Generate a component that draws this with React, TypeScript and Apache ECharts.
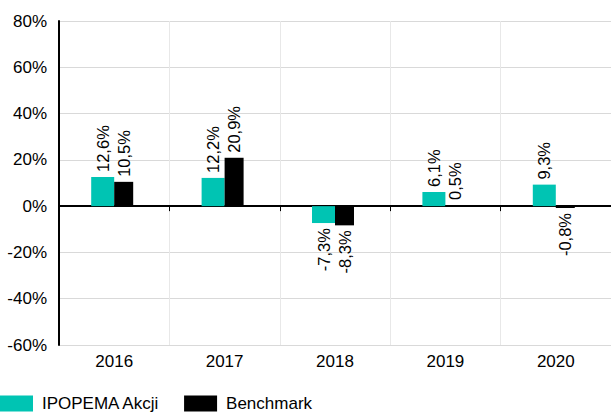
import React, { useEffect, useRef } from "react";
import * as echarts from "echarts";

const categories = ["2016", "2017", "2018", "2019", "2020"];
const fundValues = [12.6, 12.2, -7.3, 6.1, 9.3];
const benchValues = [10.5, 20.9, -8.3, 0.5, -0.8];
const seriesNames = ["IPOPEMA Akcji", "Benchmark"];

const fmt = (v: number) => v.toFixed(1).replace(".", ",") + "%";

const toData = (arr: number[]) =>
  arr.map((v) =>
    v >= 0
      ? { value: v, label: { position: "top", align: "left", formatter: fmt(v) } }
      : { value: v, label: { position: "bottom", align: "right", formatter: fmt(v) } }
  );

export default function App() {
  const ref = useRef<HTMLDivElement>(null);
  useEffect(() => {
    const chart = echarts.init(ref.current!, null, { renderer: "svg" });
    const font = "'Liberation Sans', Arial, sans-serif";
    const labelBase = {
      show: true,
      rotate: 90,
      verticalAlign: "middle",
      distance: 5,
      fontSize: 16.5,
      color: "#000",
      fontFamily: font,
    };
    chart.setOption({
      animation: false,
      textStyle: { fontFamily: font },
      grid: { left: 59, right: 0, top: 21, bottom: 69 },
      legend: {
        left: 0,
        top: 395,
        padding: 0,
        itemWidth: 33,
        itemHeight: 16,
        itemGap: 24,
        icon: "rect",
        textStyle: { fontSize: 17, color: "#000", fontFamily: font, padding: [0, 0, 0, 4] },
        data: seriesNames,
      },
      xAxis: {
        type: "category",
        data: categories,
        axisLine: { lineStyle: { color: "#000", width: 2 } },
        axisTick: { show: true, length: 5, lineStyle: { color: "#000" } },
        axisLabel: { fontSize: 17, color: "#000", margin: 8, fontFamily: font },
        splitLine: { show: true, lineStyle: { color: "#e8e8e8", width: 1 } },
      },
      yAxis: {
        type: "value",
        min: -60,
        max: 80,
        interval: 20,
        axisLine: { show: true, lineStyle: { color: "#000", width: 2 } },
        axisTick: { show: false },
        axisLabel: {
          fontSize: 17,
          color: "#000",
          margin: 12,
          fontFamily: font,
          formatter: (v: number) => v + "%",
        },
        splitLine: { lineStyle: { color: "#d9d9d9", width: 1 } },
      },
      series: [
        {
          name: seriesNames[0],
          type: "bar",
          barWidth: 23,
          barGap: "0%",
          itemStyle: { color: "#00c4b3" },
          label: labelBase,
          data: toData(fundValues),
        },
        {
          name: seriesNames[1],
          type: "bar",
          barWidth: 19,
          barGap: "0%",
          itemStyle: { color: "#000" },
          label: labelBase,
          data: toData(benchValues),
        },
        {
          name: "spacer",
          type: "bar",
          barWidth: 4,
          barGap: "0%",
          silent: true,
          itemStyle: { color: "transparent" },
          data: categories.map(() => "-"),
        },
      ],
    });
    return () => chart.dispose();
  }, []);
  return <div ref={ref} style={{ width: 611, height: 414, position: "absolute", left: 0, top: 0 }} />;
}
